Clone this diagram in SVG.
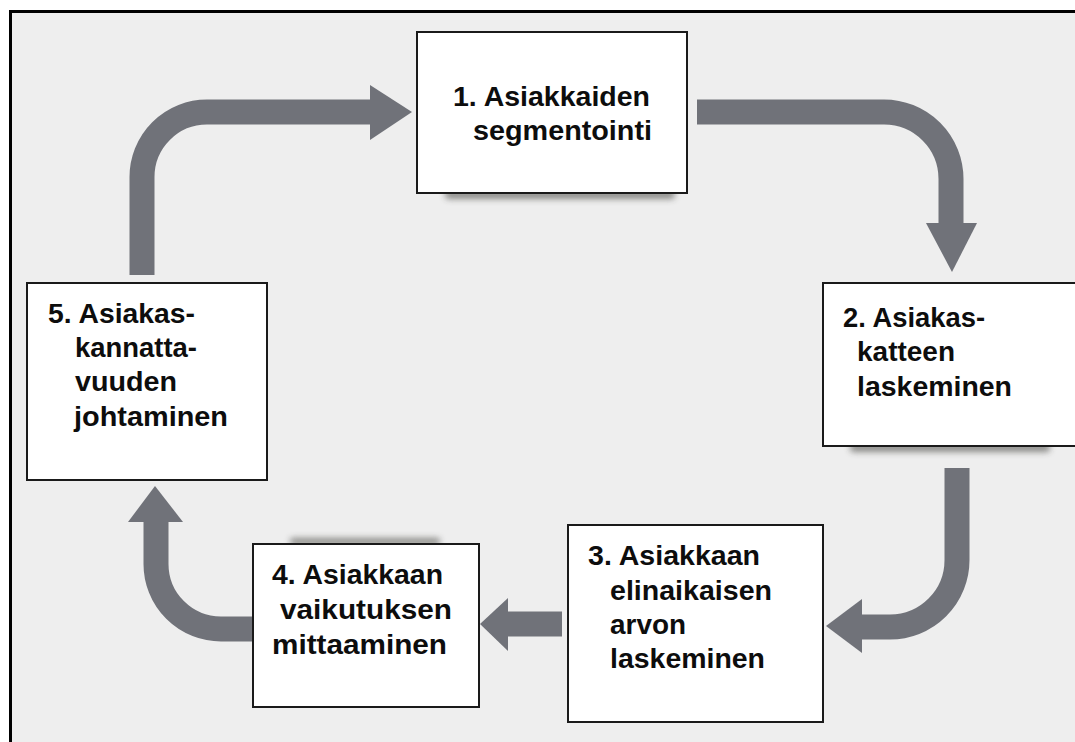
<svg xmlns="http://www.w3.org/2000/svg" width="1075" height="742" viewBox="0 0 1075 742">
  <style>
    .box { fill: #ffffff; stroke: #1a1a1a; stroke-width: 2; }
    .lbl { font-family: "Liberation Sans", Arial, sans-serif; font-weight: bold; font-size: 27px; fill: #0d0d0d; }
    .shaft { fill: none; stroke: #707279; stroke-width: 25; stroke-linecap: butt; }
    .head { fill: #707279; }
    .shadow { fill: #3a3a34; opacity: 0.55; filter: url(#soft); }
  </style>
  <defs>
    <filter id="soft" x="-20%" y="-100%" width="140%" height="300%">
      <feGaussianBlur stdDeviation="3"/>
    </filter>
  </defs>

  <!-- page and frame -->
  <rect x="0" y="0" width="1075" height="742" fill="#ffffff"/>
  <rect x="10" y="11" width="1070" height="740" fill="#eeeeee"/>
  <path d="M10.5,742 V11.5 H1075" fill="none" stroke="#000000" stroke-width="3"/>

  <!-- cycle arrows -->
  <g id="connectors">
    <path class="shaft" d="M142,275 V177 A65,65 0 0 1 207,112 H372"/>
    <polygon class="head" points="370,85 412,112 370,140"/>

    <path class="shaft" d="M697,112 H884 A67,67 0 0 1 951,179 V225"/>
    <polygon class="head" points="926,223 977,223 952,272"/>

    <path class="shaft" d="M957,468 V560 A67,67 0 0 1 890,627 H860"/>
    <polygon class="head" points="862,599 862,653 826,626"/>

    <path class="shaft" d="M562,624 H506"/>
    <polygon class="head" points="508,598 508,651 480,624"/>

    <path class="shaft" d="M256,629 H221 A65,65 0 0 1 156,564 V520"/>
    <polygon class="head" points="128,522 183,522 155,486"/>
  </g>

  <!-- soft shadows under the cards -->
  <rect class="shadow" x="445" y="190" width="230" height="9" rx="4"/>
  <rect class="shadow" x="850" y="443" width="200" height="9" rx="4"/>
  <rect class="shadow" x="290" y="538" width="150" height="7" rx="3" opacity="0.25"/>

  <g id="step1">
    <rect class="box" x="417" y="32" width="270" height="161"/>
    <text class="lbl" x="453" y="106" textLength="197" lengthAdjust="spacingAndGlyphs">1. Asiakkaiden</text>
    <text class="lbl" x="473" y="140" textLength="179" lengthAdjust="spacingAndGlyphs">segmentointi</text>
  </g>

  <g id="step2">
    <rect class="box" x="823" y="283" width="260" height="163"/>
    <text class="lbl" x="843" y="327" textLength="142" lengthAdjust="spacingAndGlyphs">2. Asiakas-</text>
    <text class="lbl" x="857" y="361" textLength="98" lengthAdjust="spacingAndGlyphs">katteen</text>
    <text class="lbl" x="857" y="396" textLength="155" lengthAdjust="spacingAndGlyphs">laskeminen</text>
  </g>

  <g id="step3">
    <rect class="box" x="568" y="525" width="255" height="197"/>
    <text class="lbl" x="588" y="565" textLength="172" lengthAdjust="spacingAndGlyphs">3. Asiakkaan</text>
    <text class="lbl" x="610" y="600" textLength="162" lengthAdjust="spacingAndGlyphs">elinaikaisen</text>
    <text class="lbl" x="610" y="634" textLength="76" lengthAdjust="spacingAndGlyphs">arvon</text>
    <text class="lbl" x="610" y="668" textLength="155" lengthAdjust="spacingAndGlyphs">laskeminen</text>
  </g>

  <g id="step4">
    <rect class="box" x="253" y="544" width="226" height="163"/>
    <text class="lbl" x="272" y="584" textLength="171" lengthAdjust="spacingAndGlyphs">4. Asiakkaan</text>
    <text class="lbl" x="280" y="619" textLength="172" lengthAdjust="spacingAndGlyphs">vaikutuksen</text>
    <text class="lbl" x="272" y="654" textLength="175" lengthAdjust="spacingAndGlyphs">mittaaminen</text>
  </g>

  <g id="step5">
    <rect class="box" x="27" y="283" width="240" height="197"/>
    <text class="lbl" x="48" y="323" textLength="147" lengthAdjust="spacingAndGlyphs">5. Asiakas-</text>
    <text class="lbl" x="75" y="357" textLength="122" lengthAdjust="spacingAndGlyphs">kannatta-</text>
    <text class="lbl" x="75" y="391" textLength="102" lengthAdjust="spacingAndGlyphs">vuuden</text>
    <text class="lbl" x="74" y="426" textLength="154" lengthAdjust="spacingAndGlyphs">johtaminen</text>
  </g>
</svg>
